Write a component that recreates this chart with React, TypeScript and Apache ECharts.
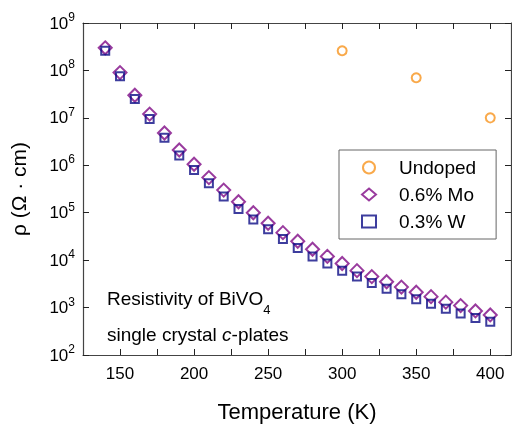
import { useEffect, useRef } from 'react';
import * as echarts from 'echarts';

const TEMPS = [140, 150, 160, 170, 180, 190, 200, 210, 220, 230, 240, 250, 260, 270, 280, 290, 300, 310, 320, 330, 340, 350, 360, 370, 380, 390, 400];
const MO = [3e8, 9e7, 3e7, 1.2e7, 4.8e6, 2.1e6, 1.05e6, 5.5e5, 3e5, 1.7e5, 1e5, 6e4, 3.8e4, 2.5e4, 1.7e4, 1.2e4, 8.5e3, 6e3, 4.5e3, 3.5e3, 2.7e3, 2.1e3, 1.7e3, 1.3e3, 1.1e3, 8.5e2, 7e2];
const W = [2.6e8, 7.5e7, 2.5e7, 9.5e6, 3.8e6, 1.6e6, 8e5, 4.2e5, 2.2e5, 1.2e5, 7.2e4, 4.5e4, 2.8e4, 1.8e4, 1.2e4, 8.5e3, 6e3, 4.5e3, 3.3e3, 2.5e3, 1.9e3, 1.5e3, 1.2e3, 9.5e2, 7.5e2, 6e2, 5e2];
const UNDOPED_T = [300, 350, 400];
const UNDOPED = [2.6e8, 7e7, 1e7];

const FONT = 'Liberation Sans, Arial, sans-serif';

export default function App() {
  const ref = useRef<HTMLDivElement>(null);

  useEffect(() => {
    if (!ref.current) return;
    const chart = echarts.init(ref.current, undefined, { renderer: 'svg' });
    const axisLine = { lineStyle: { color: '#444', width: 1.2 } };
    const tick = { inside: true, length: 6, lineStyle: { color: '#222' } };
    const xBase = {
      type: 'value', min: 125, max: 414, interval: 25, axisLine,
      axisTick: { ...tick, customValues: [150, 175, 200, 225, 250, 275, 300, 325, 350, 375, 400] },
      splitLine: { show: false },
    };
    const yBase = {
      type: 'log', min: 1e2, max: 1e9, logBase: 10, axisLine, axisTick: tick, splitLine: { show: false },
    };
    chart.setOption({
      animation: false,
      textStyle: { fontFamily: FONT },
      grid: { left: 83, right: 1, top: 23, bottom: 66 },
      xAxis: [
        {
          ...xBase,
          axisLabel: { color: '#000', fontSize: 17, margin: 10, customValues: [150, 200, 250, 300, 350, 400] },
          name: 'Temperature (K)', nameLocation: 'middle', nameGap: 45,
          nameTextStyle: { color: '#000', fontSize: 22 },
        },
        { ...xBase, position: 'top', axisLabel: { show: false } },
      ],
      yAxis: [
        {
          ...yBase,
          axisLabel: {
            color: '#000', fontSize: 17, margin: 8,
            formatter: (v: number) => '10{s|' + Math.round(Math.log10(v)) + '}',
            rich: { s: { fontSize: 12, verticalAlign: 'top', padding: [0, 0, 12, 0] } },
          },
          name: 'ρ (Ω · cm)', nameLocation: 'middle', nameGap: 54,
          nameTextStyle: { color: '#000', fontSize: 21 },
        },
        { ...yBase, position: 'right', axisLabel: { show: false } },
      ],
      legend: {
        left: 339, top: 150, orient: 'vertical', itemGap: 8,
        backgroundColor: '#fff', borderColor: '#666', borderWidth: 1, padding: [8, 20, 8, 22],
        textStyle: { fontSize: 19, color: '#000', padding: [0, 0, 0, 18] }, itemWidth: 14, itemHeight: 12,
      },
      series: [
        {
          name: 'Undoped', type: 'scatter', symbol: 'circle', symbolSize: 9,
          data: UNDOPED_T.map((t, i) => [t, UNDOPED[i]]),
          itemStyle: { color: 'transparent', borderColor: '#f7941d', borderWidth: 2 },
        },
        {
          name: '0.6% Mo', type: 'scatter', symbol: 'diamond', symbolSize: 13,
          data: TEMPS.map((t, i) => [t, MO[i]]),
          itemStyle: { color: 'transparent', borderColor: '#800a86', borderWidth: 2 },
        },
        {
          name: '0.3% W', type: 'scatter', symbol: 'rect', symbolSize: 8,
          data: TEMPS.map((t, i) => [t, W[i]]),
          itemStyle: { color: 'transparent', borderColor: '#0c0c86', borderWidth: 2 },
        },
      ],
      graphic: [
        {
          type: 'text', left: 107, top: 280,
          style: {
            text: 'Resistivity of BiVO{sub|4}\nsingle crystal {i|c}-plates',
            fontSize: 19, fill: '#000', lineHeight: 36, fontFamily: FONT,
            rich: {
              sub: { fontSize: 13, verticalAlign: 'bottom', padding: [12, 0, 0, 0], fill: '#000' },
              i: { fontStyle: 'italic', fontSize: 19, fill: '#000' },
            },
          },
        },
      ],
    });
    return () => chart.dispose();
  }, []);

  return <div ref={ref} style={{ position: 'fixed', left: 0, top: 0, width: 512, height: 427 }} />;
}
